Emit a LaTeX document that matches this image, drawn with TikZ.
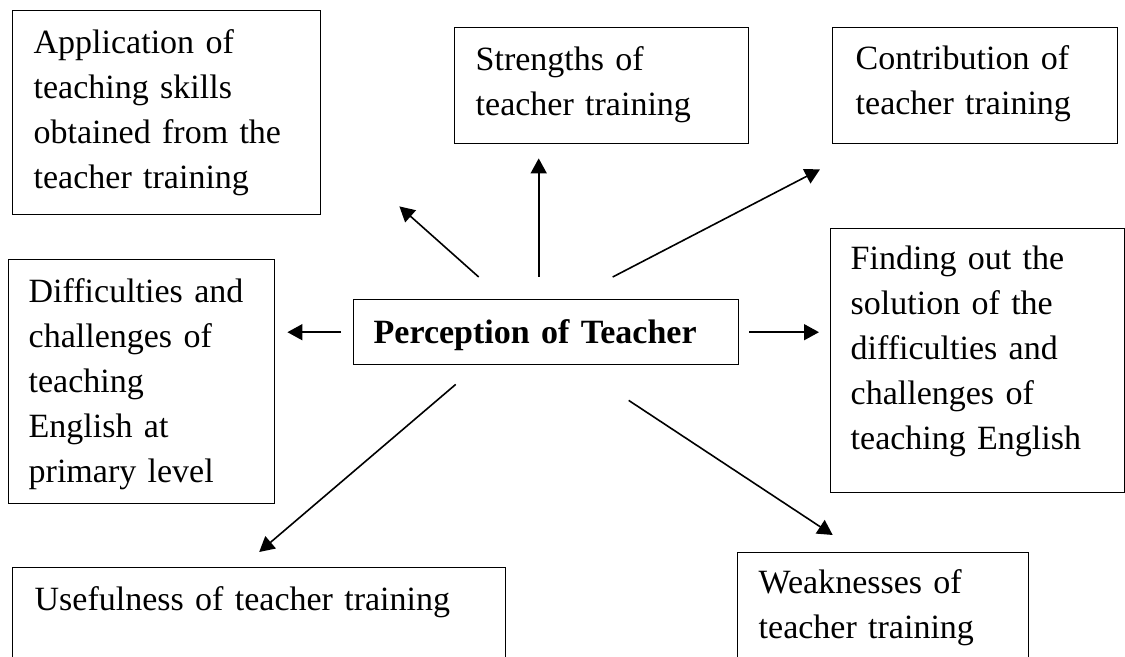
\documentclass[tikz,border=0pt]{standalone}
\usepackage{fontspec}
\setmainfont{Liberation Serif}
\usetikzlibrary{arrows.meta}
\begin{document}
\begin{tikzpicture}[x=0.5pt,y=-0.5pt,>={Triangle[length=7.5pt,width=8pt]},
		box/.style={draw,line width=0.7pt,anchor=north west,align=left,inner ysep=0pt,inner xsep=10.5pt,font=\fontsize{17}{22.5}\selectfont},
		arr/.style={->,line width=0.8pt}]
		\useasboundingbox (0,0) rectangle (1125,657);
		\clip (0,0) rectangle (1125,657);
		\node[box,text width=133pt,text height=21.5pt,text depth=80.5pt] (app) at (12,10) {Application of\\teaching skills\\obtained from the\\teacher training};
		\node[box,text width=126pt,text height=21.5pt,text depth=36.5pt] (str) at (454,27) {Strengths of\\teacher training};
		\node[box,inner xsep=11.5pt,text width=119.5pt,text height=21pt,text depth=37pt] (con) at (832,27) {Contribution of\\teacher training};
		\node[box,inner xsep=10pt,text width=113pt,text height=21.5pt,text depth=100.5pt] (dif) at (8,259) {Difficulties and\\challenges of\\teaching\\English at\\primary level};
		\node[box,inner xsep=10pt,text width=172.5pt,text height=22pt,text depth=10.5pt,font=\fontsize{17}{22.5}\selectfont\bfseries] (per) at (353,299) {Perception of Teacher};
		\node[box,inner xsep=10pt,text width=127pt,text height=20.5pt,text depth=111.5pt] (fin) at (830,228) {Finding out the\\solution of the\\difficulties and\\challenges of\\teaching English};
		\node[box,inner xsep=11pt,text width=224.5pt,text height=21.5pt,text depth=45pt] (use) at (12,567) {Usefulness of teacher training};
		\node[box,text width=124.5pt,text height=20.5pt,text depth=53.5pt] (wea) at (737,552) {Weaknesses of\\teacher training};
		\draw[arr] ([shift={(-67.5,-22)}]per.north) -- ([shift={(78,-9)}]app.south east);
		\draw[arr] ([shift={(-7.5,-22)}]per.north) -- ([shift={(-63,14)}]str.south);
		\draw[arr] ([shift={(66.5,-22)}]per.north) -- ([shift={(-12,25)}]con.south west);
		\draw[arr,shorten <=6pt,shorten >=6pt] (per.west) -- (dif.east |- per.west);
		\draw[arr,shorten <=5pt,shorten >=5.5pt] (per.east) -- (fin.west |- per.east);
		\draw[arr] ([shift={(-90.5,19)}]per.south) -- ([shift={(0,-15)}]use.north);
		\draw[arr] ([shift={(82.5,35)}]per.south) -- ([shift={(-50.5,-17)}]wea.north);
	\end{tikzpicture}
\end{document}
